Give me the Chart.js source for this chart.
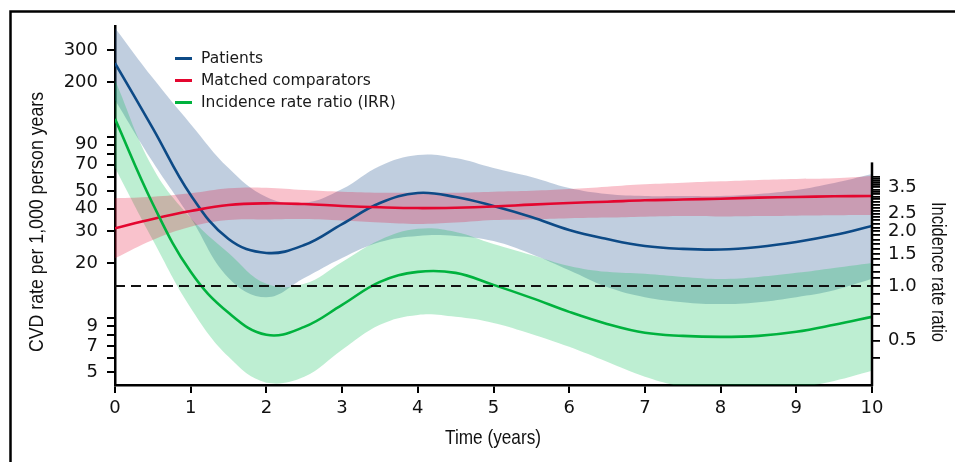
<!DOCTYPE html>
<html><head><meta charset="utf-8">
<script src="https://cdn.jsdelivr.net/npm/chart.js@4.4.1/dist/chart.umd.min.js"></script>
<style>html,body{margin:0;padding:0;background:#fff;}canvas{display:block}</style>
</head><body>
<canvas id="c" width="955" height="462"></canvas>
<script>
// ---- data ----
const years = [0,0.5,1,1.5,2,2.5,3,3.5,4,4.5,5,5.5,6,6.5,7,7.5,8,8.5,9,9.5,10];
// CVD rate per 1,000 person years
const patients      = [254,111,47.6,27.2,22.8,25.2,32.9,43.0,48.8,46.4,41.4,36.0,30.5,27.2,24.9,24.0,23.8,24.6,26.2,28.6,32.1];
const patientsUpper = [397,210,117,67.0,46.4,43.0,51.3,68.8,79.1,76.1,67.0,59.8,52.0,48.2,47.0,47.0,47.0,48.2,50.7,55.4,62.1];
const patientsLower = [159,72.3,35.5,16.6,13.0,16.6,21.4,26.2,28.3,28.3,26.5,22.5,18.3,14.8,13.0,12.2,11.9,12.2,13.0,14.2,16.4];
const comparators      = [31.2,35.1,38.8,41.9,42.8,42.4,41.4,40.7,40.3,40.5,41.1,42.1,43.0,43.7,44.5,44.9,45.4,46.0,46.4,46.8,47.0];
const comparatorsUpper = [45.6,46.5,48.6,51.8,52.2,50.7,49.6,49.0,49.0,49.0,49.6,50.2,51.3,52.9,54.5,55.6,56.6,57.6,58.3,58.8,60.5];
const comparatorsLower = [21.3,26.9,31.8,34.6,34.9,35.1,34.4,33.5,32.9,33.5,34.6,34.9,35.4,35.7,36.1,36.4,36.2,36.4,36.6,36.8,36.9];
// Incidence rate ratio
const irr      = [8.34,2.83,1.195,0.710,0.537,0.594,0.786,1.052,1.195,1.180,1.013,0.859,0.719,0.617,0.551,0.530,0.523,0.530,0.558,0.610,0.675];
const irrUpper = [13.68,4.48,2.37,1.52,1.026,1.026,1.356,1.793,2.063,1.985,1.704,1.482,1.289,1.195,1.165,1.121,1.093,1.121,1.180,1.257,1.339];
const irrLower = [4.48,1.79,0.756,0.406,0.292,0.315,0.444,0.610,0.692,0.675,0.625,0.543,0.461,0.381,0.315,0.277,0.260,0.260,0.274,0.299,0.340];
const referenceIRR = [1, 1];
const referenceYears = [0, 10];

// ---- ticks ----
const xTicks = [0,1,2,3,4,5,6,7,8,9,10];
const rateTicks = [5,6,7,8,9,10,20,30,40,50,60,70,80,90,100,200,300];
const rateLabeled = [5,7,9,20,30,40,50,70,90,200,300];
const irrTicks = [0.4,0.5,0.6,0.7,0.8,0.9,1.0,1.1,1.2,1.3,1.4,1.5,1.6,1.7,1.8,1.9,2.0,2.1,2.2,2.3,2.4,2.5,2.6,2.7,2.8,2.9,3.0,3.1,3.2,3.3,3.4,3.5,3.6,3.7,3.8,3.9,4.0];
const irrLabeled = [0.5,1.0,1.5,2.0,2.5,3.5];

const legendLabels = ['Patients','Matched comparators','Incidence rate ratio (IRR)'];
const titles = {x:'Time (years)', y:'CVD rate per 1,000 person years', y2:'Incidence rate ratio'};

// ---- styling / layout ----
const RATE_MIN = 4.26, RATE_MAX = 407, IRR_EQUIV = 15; // IRR 1.0 sits at rate 15
const irrAxisTop = 4.8;
const C = {
  blue:'#0d4a86', red:'#e4062f', green:'#00b23e',
  blueBand:'rgba(30,80,140,0.28)', redBand:'rgba(230,0,40,0.24)', greenBand:'rgba(0,190,80,0.26)'
};
const pts = (xs, arr) => arr.map((v,i)=>({x:xs[i], y:v}));
const lineDs = (data, color, axis, order) => ({data:pts(years,data), borderColor:color, borderWidth:2.6, pointRadius:0, fill:false, yAxisID:axis, tension:0.4, order});
const bandDs = (data, color, axis, order, fill) => ({data:pts(years,data), borderWidth:0, borderColor:'rgba(0,0,0,0)', pointRadius:0, backgroundColor:color, fill, yAxisID:axis, tension:0.4, order});

const tickFont = {family:'"DejaVu Sans"', size:18};
const axisGrid = {drawOnChartArea:false, drawTicks:true, tickLength:8, lineWidth:2, color:'#000'};

function condensedText(ctx, text, cx, cy, rot, targetLen){
  ctx.save();
  ctx.translate(cx, cy); ctx.rotate(rot);
  ctx.font = '21px "Liberation Sans", Arial, sans-serif';
  const w = ctx.measureText(text).width;
  ctx.scale(targetLen / w, 1);
  ctx.textAlign = 'center'; ctx.textBaseline = 'middle'; ctx.fillStyle = '#111';
  ctx.fillText(text, 0, 0);
  ctx.restore();
}

const deco = {
  id:'deco',
  beforeDraw(chart){
    const ctx = chart.ctx;
    ctx.save();
    ctx.fillStyle = '#fff'; ctx.fillRect(0,0,chart.width,chart.height);
    ctx.strokeStyle = '#000'; ctx.lineWidth = 2.5;
    ctx.beginPath(); ctx.moveTo(10.5, chart.height+3); ctx.lineTo(10.5, 11.5); ctx.lineTo(chart.width+3, 11.5); ctx.stroke();
    ctx.restore();
  },
  afterDraw(chart){
    const ctx = chart.ctx, a = chart.chartArea, y2 = chart.scales.y2;
    ctx.save();
    // right axis spine
    ctx.strokeStyle = '#000'; ctx.lineWidth = 2.5;
    ctx.beginPath(); ctx.moveTo(a.right, y2.getPixelForValue(irrAxisTop)); ctx.lineTo(a.right, a.bottom + 1.2); ctx.stroke();
    // legend
    const colors = [C.blue, C.red, C.green];
    ctx.font = '15.5px "DejaVu Sans"'; ctx.textBaseline = 'middle'; ctx.textAlign = 'left';
    legendLabels.forEach((lab, i) => {
      const y = 58.5 + i*22;
      ctx.strokeStyle = colors[i]; ctx.lineWidth = 3;
      ctx.beginPath(); ctx.moveTo(175, y); ctx.lineTo(192, y); ctx.stroke();
      ctx.fillStyle = '#1a1a1a'; ctx.fillText(lab, 201, y + 0.5);
    });
    // axis titles
    condensedText(ctx, titles.x, 493, 438, 0, 96);
    condensedText(ctx, titles.y, 37, 222, -Math.PI/2, 260);
    condensedText(ctx, titles.y2, 938, 272, Math.PI/2, 140);
    ctx.restore();
  }
};

new Chart(document.getElementById('c'), {
  type:'line',
  data:{ datasets:[
    bandDs(patientsUpper, C.blueBand, 'y', 30, '+1'),
    bandDs(patientsLower, 'rgba(0,0,0,0)', 'y', 30, false),
    bandDs(irrUpper, C.greenBand, 'y2', 20, '+1'),
    bandDs(irrLower, 'rgba(0,0,0,0)', 'y2', 20, false),
    bandDs(comparatorsUpper, C.redBand, 'y', 10, '+1'),
    bandDs(comparatorsLower, 'rgba(0,0,0,0)', 'y', 10, false),
    lineDs(patients, C.blue, 'y', 3),
    lineDs(comparators, C.red, 'y', 2),
    lineDs(irr, C.green, 'y2', 1),
    {data:pts(referenceYears, referenceIRR), borderColor:'#111', borderWidth:2, borderDash:[10,6], pointRadius:0, fill:false, yAxisID:'y2', order:0}
  ]},
  options:{
    responsive:false, devicePixelRatio:1, animation:false, events:[],
    layout:{padding:{top:26, left:0, right:0, bottom:0}},
    plugins:{legend:{display:false}, tooltip:{enabled:false}},
    scales:{
      x:{type:'linear', position:'bottom', min:0, max:10,
        afterBuildTicks(s){ s.ticks = xTicks.map(v=>({value:v})); },
        ticks:{font:tickFont, color:'#111', padding:5, maxRotation:0, autoSkip:false},
        grid:axisGrid, border:{display:true, width:2.5, color:'#000'},
        afterFit(s){ s.height = 77; }},
      y:{type:'logarithmic', position:'left', min:RATE_MIN, max:RATE_MAX,
        afterBuildTicks(s){ s.ticks = rateTicks.map(v=>({value:v})); },
        ticks:{font:tickFont, color:'#111', padding:9, autoSkip:false,
          callback:(v)=> rateLabeled.includes(v) ? String(v) : ''},
        grid:axisGrid, border:{display:true, width:2.5, color:'#000'},
        afterFit(s){ s.width = 115; }},
      y2:{type:'logarithmic', position:'right', min:RATE_MIN/IRR_EQUIV, max:RATE_MAX/IRR_EQUIV,
        afterBuildTicks(s){ s.ticks = irrTicks.map(v=>({value:v})); },
        ticks:{font:tickFont, color:'#111', padding:8, autoSkip:false,
          callback:(v)=> irrLabeled.some(l=>Math.abs(l-v)<1e-9) ? v.toFixed(1) : ''},
        grid:{...axisGrid, lineWidth:1.8}, border:{display:false},
        afterFit(s){ s.width = 83; }}
    }
  },
  plugins:[deco]
});
</script>
</body></html>
